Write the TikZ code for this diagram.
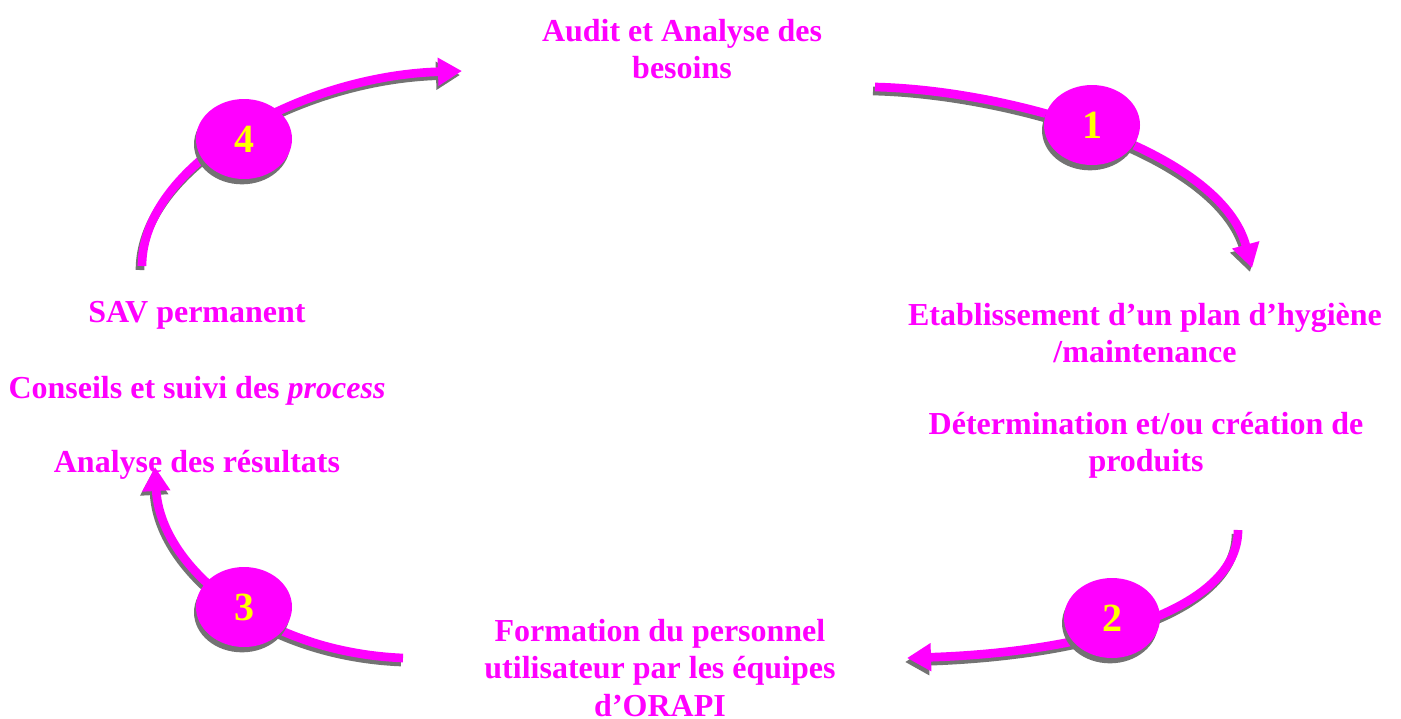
\documentclass[tikz,border=0pt]{standalone}
\usepackage{fontspec}
\setmainfont{Liberation Serif}
\usetikzlibrary{arrows.meta,shapes.geometric,shadows}
\definecolor{mag}{RGB}{255,0,255}
\definecolor{yel}{RGB}{255,255,0}
\definecolor{shade}{RGB}{115,115,115}
\begin{document}
\begin{tikzpicture}[x=0.75pt,y=-0.75pt,
  lbl/.style={text=mag,font=\bfseries\fontsize{24}{28}\selectfont,align=center,inner sep=0pt},
  flow/.style={draw=mag,line width=6.5pt,-{Triangle[length=18pt,width=20pt]}},
  flowshadow/.style={draw=shade,line width=6.5pt,-{Triangle[length=18pt,width=20pt]},
    transform canvas={shift={(-1.5pt,-3pt)}}},
  stepdisc/.style={ellipse,fill=mag,minimum width=72pt,minimum height=60pt,inner sep=0pt,
    text=yel,font=\bfseries\fontsize{30}{32}\selectfont,
    drop shadow={shadow xshift=-1.5pt,shadow yshift=-4pt,fill=shade,opacity=1}}]
\useasboundingbox (0,0) rectangle (1401,718);

% arrow end points
\coordinate (a1s) at (875,87);   \coordinate (a1e) at (1252,268);
\coordinate (a2s) at (1238,530); \coordinate (a2e) at (907,658);
\coordinate (a3s) at (403,658);  \coordinate (a3e) at (155,467);
\coordinate (a4s) at (142,266);  \coordinate (a4e) at (462,71);

% shadows of the arrows
\draw[flowshadow] (a1s) .. controls (1010,90) and (1220,150) .. (a1e);
\draw[flowshadow] (a2s) .. controls (1238,610) and (1090,652) .. (a2e);
\draw[flowshadow] (a3s) .. controls (260,652) and (160,565) .. (a3e);
\draw[flowshadow] (a4s) .. controls (142,165) and (300,76) .. (a4e);

% arrows
\draw[flow] (a1s) .. controls (1010,90) and (1220,150) .. (a1e);
\draw[flow] (a2s) .. controls (1238,610) and (1090,652) .. (a2e);
\draw[flow] (a3s) .. controls (260,652) and (160,565) .. (a3e);
\draw[flow] (a4s) .. controls (142,165) and (300,76) .. (a4e);

% numbered steps
\node[stepdisc] (s1) at (1092,125) {1};
\node[stepdisc] (s2) at (1112,618) {2};
\node[stepdisc] (s3) at (244,607) {3};
\node[stepdisc] (s4) at (244,139) {4};

% labels
\node[lbl] (audit) at (682,49) {Audit et Analyse des\\besoins};
\node[lbl] (plan) at (1145,333) {Etablissement d’un plan d’hygiène\\/maintenance};
\node[lbl] (prod) at (1146,445) {Détermination et/ou création de\\produits};
\node[lbl] (form) at (660,668) {Formation du personnel\\utilisateur par les équipes\\d’ORAPI};
\node[lbl] (sav) at (197,315) {SAV permanent};
\node[lbl] (cons) at (197,391) {Conseils et suivi des \textit{process}};
\node[lbl] (res) at (197,465) {Analyse des résultats};
\end{tikzpicture}
\end{document}
